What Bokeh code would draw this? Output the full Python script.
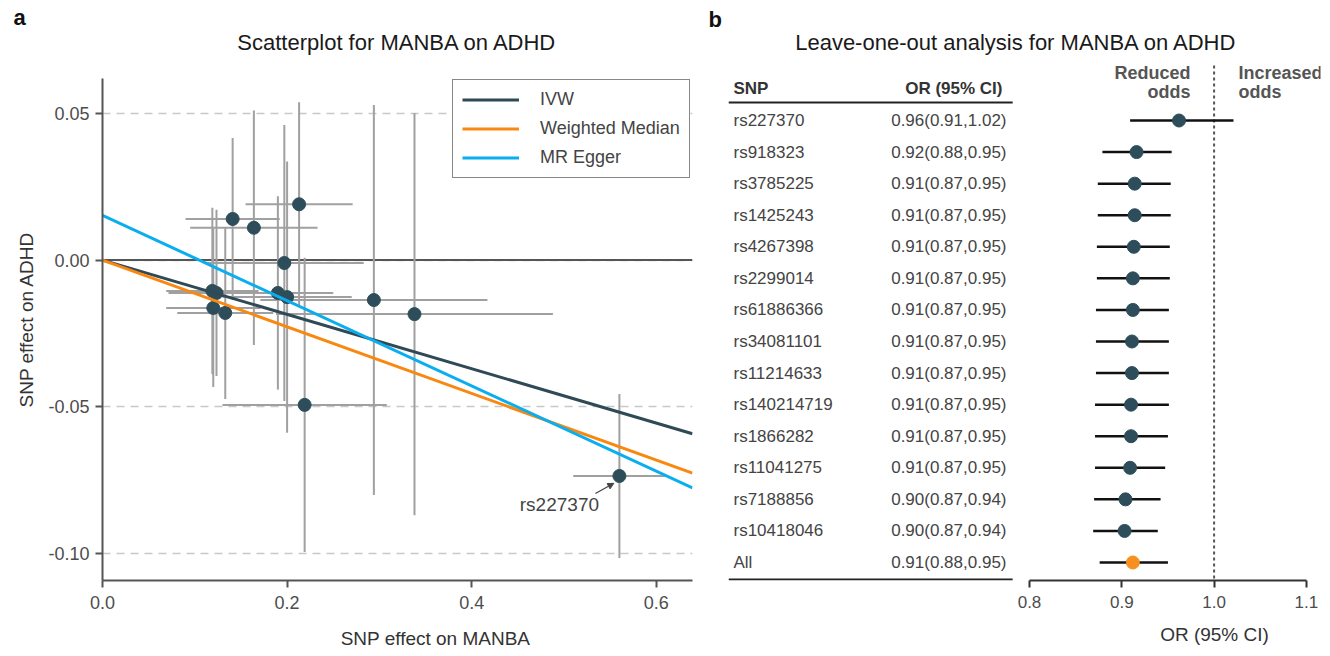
import numpy as np
from bokeh.plotting import figure
from bokeh.layouts import row, column
from bokeh.models import (Range1d, FixedTicker, PrintfTickFormatter, Span, Label,
                          Arrow, NormalHead, ColumnDataSource)
from bokeh.core.properties import value
from bokeh.embed import file_html
from bokeh.resources import INLINE

FONT = "Liberation Sans"

# ---------------- Panel a data: SNP effects ----------------
beta_exp = [0.141, 0.164, 0.213, 0.197, 0.119, 0.1235, 0.120, 0.133, 0.190, 0.200, 0.294, 0.338, 0.219, 0.560]
beta_out = [0.014, 0.011, 0.019, -0.001, -0.0105, -0.0112, -0.0163, -0.018, -0.0112, -0.0126, -0.0136, -0.0184, -0.0493, -0.0735]
ci_exp = [0.051, 0.069, 0.058, 0.086, 0.050, 0.052, 0.051, 0.052, 0.060, 0.070, 0.123, 0.150, 0.089, 0.050]
ci_out = [0.0276, 0.0399, 0.0347, 0.0470, 0.0283, 0.0283, 0.0269, 0.0293, 0.0329, 0.0462, 0.0664, 0.0685, 0.0501, 0.0279]

methods = ["IVW", "Weighted Median", "MR Egger"]
intercepts = [0.0, 0.0, 0.0152]
slopes = [-0.0925, -0.1135, -0.1451]
method_colors = ["#2F4A56", "#F8880F", "#0AAEEF"]

x_ticks_a = [0.0, 0.2, 0.4, 0.6]
y_ticks_a = [-0.10, -0.05, 0.0, 0.05]

# ---------------- Panel b data: leave-one-out ----------------
snp_names = ["rs227370", "rs918323", "rs3785225", "rs1425243", "rs4267398", "rs2299014",
             "rs61886366", "rs34081101", "rs11214633", "rs140214719", "rs1866282",
             "rs11041275", "rs7188856", "rs10418046", "All"]
or_est = [0.962, 0.916, 0.914, 0.914, 0.913, 0.912, 0.912, 0.911, 0.911, 0.910, 0.910, 0.909, 0.904, 0.903, 0.912]
or_lo = [0.909, 0.879, 0.874, 0.874, 0.873, 0.873, 0.872, 0.872, 0.872, 0.871, 0.871, 0.871, 0.870, 0.869, 0.876]
or_hi = [1.021, 0.954, 0.953, 0.953, 0.952, 0.952, 0.951, 0.951, 0.951, 0.951, 0.950, 0.947, 0.942, 0.939, 0.950]
or_ticks = [0.8, 0.9, 1.0, 1.1]

POINT = "#2E4D5A"
GRAYTXT = "#4D4D4D"
WA, WB = 700, 628
HEAD, FOOT, BODY = 58, 36, 560


def strip(width, height):
    f = figure(width=width, height=height, output_backend="svg", toolbar_location=None,
               x_range=Range1d(0, width), y_range=Range1d(height, 0),
               x_axis_location=None, y_axis_location=None,
               min_border=0, min_border_left=0, min_border_right=0,
               min_border_top=0, min_border_bottom=0)
    f.outline_line_color = None
    f.grid.visible = False
    return f


def txt(f, x, y, s, size, bold=False, align="center", baseline="middle", color="#1A1A1A", **kw):
    f.text(x=[x], y=[y], text=[s], text_align=align, text_baseline=baseline,
           text_font=value(FONT), text_font_size=size,
           text_font_style="bold" if bold else "normal", text_color=color, **kw)


# ================= header / footer strips (page-wide) =================
head = strip(WA + WB, HEAD)
txt(head, 13, 17, "a", "22px", bold=True, align="left", color="#111111")
txt(head, 397, 41.5, "Scatterplot for MANBA on ADHD", "22px")
txt(head, 708, 18.5, "b", "22px", bold=True, align="left", color="#111111")
txt(head, 1016, 41.5, "Leave-one-out analysis for MANBA on ADHD", "22px")

foot = strip(WA + WB, FOOT)
txt(foot, 435, 20, "SNP effect on MANBA", "19px", color="#333333")
txt(foot, 1214, 16, "OR (95% CI)", "19px", color="#333333")

# ================= Panel a =================
# frame spans page y 58..580 (same as panel b so row alignment is a no-op)
pA = figure(width=WA, height=BODY, output_backend="svg", toolbar_location=None,
            x_range=Range1d(0, 0.6392), y_range=Range1d(-0.10909, 0.06863),
            min_border_left=102, min_border_right=8, min_border_top=0, min_border_bottom=38)
pA.outline_line_color = None
pA.xgrid.visible = False
pA.ygrid.ticker = FixedTicker(ticks=y_ticks_a)
pA.ygrid.grid_line_color = "#C8C8C8"
pA.ygrid.grid_line_dash = "8 6"
pA.ygrid.grid_line_width = 1.5

for ax in (pA.xaxis, pA.yaxis):
    ax.axis_line_color = "#555555"
    ax.axis_line_width = 2
    ax.major_tick_line_color = "#555555"
    ax.major_tick_line_width = 2
    ax.major_tick_in = 0
    ax.major_tick_out = 7
    ax.minor_tick_line_color = None
    ax.major_label_text_font = FONT
    ax.major_label_text_font_size = "18px"
    ax.major_label_text_color = GRAYTXT
    ax.axis_label_text_font = FONT
    ax.axis_label_text_font_style = "normal"
    ax.axis_label_text_font_size = "19px"
    ax.axis_label_text_color = "#333333"

pA.xaxis.ticker = FixedTicker(ticks=x_ticks_a)
pA.xaxis.formatter = PrintfTickFormatter(format="%.1f")
pA.xaxis.major_label_standoff = 8
pA.yaxis.ticker = FixedTicker(ticks=y_ticks_a)
pA.yaxis.formatter = PrintfTickFormatter(format="%.2f")
pA.yaxis.major_label_standoff = 6
pA.yaxis.bounds = (pA.y_range.start, 0.0619)
pA.yaxis.axis_label = "SNP effect on ADHD"
pA.yaxis.axis_label_standoff = 8

pA.add_layout(Span(location=0, dimension="width", line_color="#555555", line_width=2, level="underlay"))

bx = np.array(beta_exp); by = np.array(beta_out)
bxe = np.array(ci_exp); bye = np.array(ci_out)
src = ColumnDataSource(dict(x=bx, y=by, xl=bx - bxe, xh=bx + bxe, yl=by - bye, yh=by + bye))
pA.segment(x0="xl", x1="xh", y0="y", y1="y", source=src, line_color="#A0A0A0", line_width=2)
pA.segment(x0="x", x1="x", y0="yl", y1="yh", source=src, line_color="#A0A0A0", line_width=2)
pA.scatter("x", "y", source=src, size=13, fill_color=POINT, line_color=POINT)

xl = np.array([0.0, pA.x_range.end])
for name, a, b, c in zip(methods, intercepts, slopes, method_colors):
    pA.line(xl, a + b * xl, line_color=c, line_width=3, legend_label=name)

lg = pA.legend[0]
lg.location = (350, 402)
lg.margin = 0
lg.padding = 9
lg.spacing = 8
lg.glyph_width = 57
lg.glyph_height = 21
lg.label_height = 21
lg.label_standoff = 21
lg.label_text_font = FONT
lg.label_text_font_size = "18px"
lg.label_text_color = "#444444"
lg.border_line_color = "#111111"
lg.border_line_width = 1.5
lg.background_fill_alpha = 1.0

# annotation for the outlier SNP (last point)
nx, ny = beta_exp[-1], beta_out[-1]
pA.add_layout(Arrow(end=NormalHead(size=6, fill_color="#444444", line_color="#444444"),
                    x_start=nx - 0.026, y_start=ny - 0.0060, x_end=nx - 0.006, y_end=ny - 0.0025,
                    line_color="#444444", line_width=1.2))
pA.add_layout(Label(x=nx, y=ny, x_offset=-60, y_offset=-29, text=snp_names[0],
                    text_align="center", text_baseline="middle", text_font=FONT,
                    text_font_size="19px", text_color="#444444"))

# ================= Panel b =================
n = len(snp_names)
rows = list(range(n))
pB = figure(width=WB, height=BODY, output_backend="svg", toolbar_location=None,
            x_range=Range1d(0.47389, 1.11528), y_range=Range1d(14.570, -1.964),
            y_axis_location=None,
            min_border_left=28, min_border_right=8, min_border_top=0, min_border_bottom=38)
pB.extra_x_ranges = {"tbl": Range1d(0, 1)}
pB.outline_line_color = None
pB.xgrid.visible = False
pB.ygrid.visible = False

ax = pB.xaxis[0]
ax.bounds = (or_ticks[0], or_ticks[-1])
ax.ticker = FixedTicker(ticks=or_ticks)
ax.formatter = PrintfTickFormatter(format="%.1f")
ax.axis_line_color = "#333333"
ax.axis_line_width = 2
ax.major_tick_line_color = "#333333"
ax.major_tick_line_width = 2
ax.major_tick_in = 0
ax.major_tick_out = 7
ax.minor_tick_line_color = None
ax.major_label_standoff = 8
ax.major_label_text_font = FONT
ax.major_label_text_font_size = "17px"
ax.major_label_text_color = GRAYTXT

# null line at OR = 1 (from the header down to the axis)
pB.segment(x0=[1.0], x1=[1.0], y0=[-1.742], y1=[pB.y_range.start], line_color="#555555",
           line_width=2, line_dash="3 3")

pt_colors = [POINT] * (n - 1) + ["#F7901E"]
fsrc = ColumnDataSource(dict(y=rows, est=or_est, lo=or_lo, hi=or_hi, c=pt_colors,
                             snp=snp_names,
                             lab=[f"{e:.2f}({l:.2f},{h:.2f})" for e, l, h in zip(or_est, or_lo, or_hi)],
                             xn=[0.0084] * n, xo=[0.4696] * n))
pB.segment(x0="lo", x1="hi", y0="y", y1="y", source=fsrc, line_color="#111111", line_width=2.5)
pB.scatter("est", "y", source=fsrc, size=13, fill_color="c", line_color="c")

pB.text(x="xn", y="y", text="snp", source=fsrc, x_range_name="tbl", text_align="left",
        text_baseline="middle", text_font=value(FONT), text_font_size="17px", text_color="#444444")
pB.text(x="xo", y="y", text="lab", source=fsrc, x_range_name="tbl", text_align="right",
        text_baseline="middle", text_font=value(FONT), text_font_size="17px", text_color="#444444")

# table header and rules
txt(pB, 0.0084, -1.01, "SNP", "17px", bold=True, align="left", color="#333333", x_range_name="tbl")
txt(pB, 0.4628, -1.01, "OR (95% CI)", "17px", bold=True, align="right", color="#333333", x_range_name="tbl")
pB.segment(x0=[0, 0], x1=[0.480, 0.480], y0=[-0.57, 14.54], y1=[-0.57, 14.54],
           x_range_name="tbl", line_color="#222222", line_width=2)

# direction labels
for s, yy in (("Reduced", -1.49), ("odds", -0.89)):
    txt(pB, 0.9744, yy, s, "18px", bold=True, align="right", color="#555555")
for s, yy in (("Increased", -1.49), ("odds", -0.89)):
    txt(pB, 1.0264, yy, s, "18px", bold=True, align="left", color="#555555")

layout = column(head, row(pA, pB), foot)
open("out.html", "w").write(file_html(layout, INLINE))
